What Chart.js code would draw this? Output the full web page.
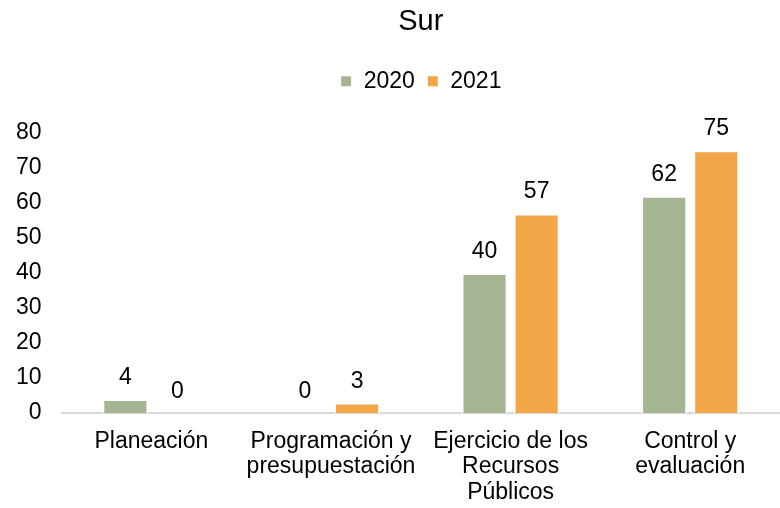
<!DOCTYPE html>
<html>
<head>
<meta charset="utf-8">
<script src="https://cdn.jsdelivr.net/npm/chart.js@4/dist/chart.umd.min.js"></script>
<style>
  html, body { margin: 0; padding: 0; background: #fff; }
  #wrap { width: 780px; height: 508px; }
</style>
</head>
<body>
<div id="wrap"><canvas id="chart" width="780" height="508"></canvas></div>
<script>
const categories = [
    'Planeación',
    ['Programación y', 'presupuestación'],
    ['Ejercicio de los', 'Recursos', 'Públicos'],
    ['Control y', 'evaluación']
];
const values2020 = [4, 0, 40, 62];
const values2021 = [0, 3, 57, 75];
const yTicks = [0, 10, 20, 30, 40, 50, 60, 70, 80];

const FONT = '"Liberation Sans", Arial, sans-serif';

// Etiquetas de valor encima de cada barra
const valueLabels = {
    id: 'valueLabels',
    afterDatasetsDraw(chart) {
        const ctx = chart.ctx;
        ctx.save();
        ctx.font = '23px ' + FONT;
        ctx.fillStyle = '#000';
        ctx.textAlign = 'center';
        ctx.textBaseline = 'alphabetic';
        chart.data.datasets.forEach((ds, i) => {
            chart.getDatasetMeta(i).data.forEach((bar, j) => {
                ctx.fillText(String(ds.data[j]), bar.x, bar.y - 15);
            });
        });
        ctx.restore();
    }
};

// Espacio extra debajo de la leyenda
const legendGap = {
    id: 'legendGap',
    beforeInit(chart) {
        const fit = chart.legend.fit;
        chart.legend.fit = function () {
            fit.call(this);
            this.height += 30;
        };
    }
};

new Chart(document.getElementById('chart'), {
    type: 'bar',
    data: {
        labels: categories,
        datasets: [
            {
                label: '2020',
                data: values2020,
                backgroundColor: '#A5B592',
                borderColor: '#ffffff',
                borderWidth: 2,
                barPercentage: 0.885,
                categoryPercentage: 0.58
            },
            {
                label: '2021',
                data: values2021,
                backgroundColor: '#F3A648',
                borderColor: '#ffffff',
                borderWidth: 2,
                barPercentage: 0.885,
                categoryPercentage: 0.58
            }
        ]
    },
    options: {
        responsive: false,
        animation: false,
        layout: { padding: { left: -4, right: 0, top: 1, bottom: -13 } },
        plugins: {
            title: {
                display: true,
                fullSize: false,
                text: 'Sur',
                color: '#000',
                font: { family: FONT, size: 29, weight: 'normal' },
                padding: { top: 4, bottom: 18 }
            },
            legend: {
                position: 'top',
                fullSize: false,
                labels: {
                    color: '#000',
                    font: { family: FONT, size: 23 },
                    boxWidth: 12,
                    boxHeight: 12,
                    padding: 12
                }
            },
            tooltip: { enabled: false }
        },
        scales: {
            x: {
                grid: { display: false, drawTicks: false },
                border: { display: true, color: '#d9d9d9', width: 2 },
                ticks: {
                    color: '#000',
                    font: { family: FONT, size: 23, lineHeight: 1.1 },
                    padding: 16,
                    maxRotation: 0,
                    autoSkip: false
                }
            },
            y: {
                min: 0,
                max: 80,
                afterBuildTicks(axis) {
                    axis.ticks = yTicks.map(v => ({ value: v }));
                },
                grid: { display: false, drawTicks: false },
                border: { display: false },
                ticks: {
                    color: '#000',
                    font: { family: FONT, size: 23 },
                    padding: 20
                }
            }
        }
    },
    plugins: [valueLabels, legendGap]
});
</script>
</body>
</html>
